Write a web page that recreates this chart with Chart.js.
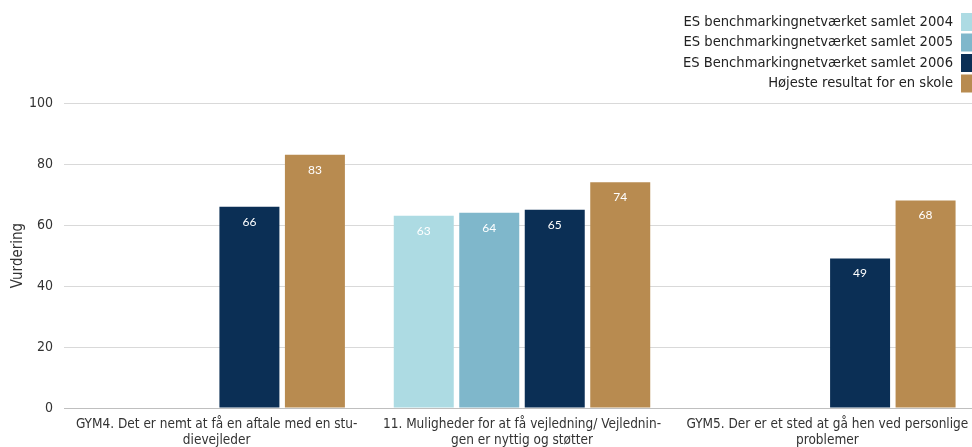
<!DOCTYPE html>
<html>
<head>
<meta charset="utf-8">
<script src="https://cdn.jsdelivr.net/npm/chart.js@4"></script>
<style>
  html, body { margin: 0; padding: 0; background: #fff; overflow: hidden; }
  #wrap { width: 980px; height: 447px; }
</style>
</head>
<body>
<div id="wrap"><canvas id="benchChart"></canvas></div>
<script>
const categories = [
  ['GYM4. Det er nemt at få en aftale med en stu-', 'dievejleder'],
  ['11. Muligheder for at få vejledning/ Vejlednin-', 'gen er nyttig og støtter'],
  ['GYM5. Der er et sted at gå hen ved personlige', 'problemer']
];
const seriesNames = [
  'ES benchmarkingnetværket samlet 2004',
  'ES benchmarkingnetværket samlet 2005',
  'ES Benchmarkingnetværket samlet 2006',
  'Højeste resultat for en skole'
];
const values2004 = [null, 63, null];
const values2005 = [null, 64, null];
const values2006 = [66, 65, 49];
const valuesBest = [83, 74, 68];
const seriesColors = ['#addbe3', '#7fb7cb', '#0b2f55', '#b88b50'];
const yMin = 0, yMax = 100, yStep = 20;

// legend on the right, box after the text
const sideLegend = {
  id: 'sideLegend',
  afterDraw(chart) {
    const c = chart.ctx;
    c.save();
    c.font = '14.6px "DejaVu Sans Condensed", "DejaVu Sans"';
    c.textAlign = 'right';
    c.textBaseline = 'middle';
    chart.data.datasets.forEach((ds, i) => {
      const y = 22 + i * 20.5;
      c.fillStyle = '#222';
      c.fillText(ds.label, 953, y);
      c.fillStyle = ds.backgroundColor;
      c.fillRect(961, y - 9, 18, 18);
    });
    c.restore();
  }
};

// numbers inside the top of each bar
const barValues = {
  id: 'barValues',
  afterDatasetsDraw(chart) {
    const c = chart.ctx;
    c.save();
    c.font = '12px Lato';
    c.fillStyle = '#ffffff';
    c.textAlign = 'center';
    c.textBaseline = 'middle';
    chart.data.datasets.forEach((ds, i) => {
      chart.getDatasetMeta(i).data.forEach((bar, j) => {
        const v = ds.data[j];
        if (v == null) return;
        c.fillText(v, bar.x, bar.y + 15);
      });
    });
    c.restore();
  }
};

new Chart(document.getElementById('benchChart'), {
  type: 'bar',
  data: {
    labels: categories,
    datasets: [
      { label: seriesNames[0], data: values2004, backgroundColor: seriesColors[0] },
      { label: seriesNames[1], data: values2005, backgroundColor: seriesColors[1] },
      { label: seriesNames[2], data: values2006, backgroundColor: seriesColors[2] },
      { label: seriesNames[3], data: valuesBest, backgroundColor: seriesColors[3] }
    ]
  },
  options: {
    responsive: true,
    maintainAspectRatio: false,
    animation: false,
    layout: { padding: { top: 103, right: 0, left: 0, bottom: 0 } },
    datasets: { bar: { categoryPercentage: 0.858, barPercentage: 0.916 } },
    plugins: {
      legend: { display: false },
      tooltip: { enabled: false }
    },
    scales: {
      x: {
        afterFit: s => { s.height = 39; },
        grid: { display: false, drawTicks: false },
        border: { display: true, color: '#bfbfbf', width: 1 },
        ticks: {
          color: '#333',
          padding: 8,
          maxRotation: 0,
          autoSkip: false,
          font: { family: '"Liberation Sans Narrow", "DejaVu Sans Condensed"', size: 13.5, lineHeight: 1.22 }
        }
      },
      y: {
        min: yMin,
        max: yMax,
        afterFit: s => { s.width = 64; },
        grid: { color: '#d9d9d9', drawTicks: false },
        border: { display: false },
        ticks: {
          stepSize: yStep,
          color: '#333',
          padding: 11,
          font: { family: '"DejaVu Sans Condensed", "DejaVu Sans"', size: 14 }
        },
        title: {
          display: true,
          text: 'Vurdering',
          color: '#333',
          padding: { top: 9, bottom: 0 },
          font: { family: '"DejaVu Sans Condensed", "DejaVu Sans"', size: 15 }
        }
      }
    }
  },
  plugins: [sideLegend, barValues]
});
</script>
</body>
</html>
